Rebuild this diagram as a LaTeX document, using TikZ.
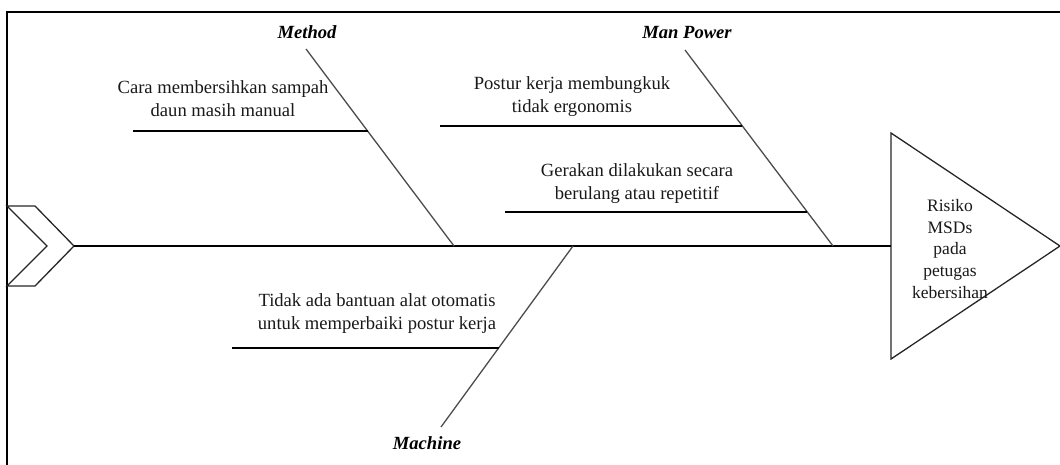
\documentclass[tikz,border=0pt]{standalone}
\usepackage{fontspec}
\setmainfont{Liberation Serif}
\begin{document}
\begin{tikzpicture}[x=1pt,y=-1pt,
  frame/.style={line width=2pt,black},
  spine/.style={line width=1.3pt,black},
  bone/.style={line width=1.3pt,black!70},
  sub/.style={line width=1.3pt,black},
  outline/.style={line width=1.3pt,black!85,line join=miter},
  cause/.style={align=center,inner sep=0pt,font=\fontsize{18.6}{22.8}\selectfont,text=black!90},
  cat/.style={inner sep=0pt,font=\fontsize{18.6}{22}\selectfont\bfseries\itshape},
  effect/.style={align=center,inner sep=0pt,font=\fontsize{17.5}{21.7}\selectfont,text=black!90}]
\useasboundingbox (0,0) rectangle (1060,465);
% frame
\draw[frame] (6.5,465) -- (6.5,12.5) -- (1060,12.5);
% chevron tail
\draw[outline]
  (7,206) -- (35,206) -- (74,246) -- (35,286) -- (7,286) -- (47,246) -- cycle;
\coordinate (tail) at (74,246);
% head triangle
\draw[outline] (891,133) -- (1060,246) -- (891,359) -- cycle;
\coordinate (head) at (891,246);
\node[effect] (effect) at (950,249) {Risiko\\MSDs\\pada\\petugas\\kebersihan};
% spine
\draw[spine] (tail) -- (head);
% category labels
\node[cat] (method) at (307,32) {Method};
\node[cat] (manpower) at (687,33) {Man Power};
\node[cat] (machine) at (427,443) {Machine};
% bone ends
\coordinate (mtop) at (306,49);
\coordinate (mbot) at (454,246);
\coordinate (ptop) at (685,50);
\coordinate (pbot) at (833,246);
\coordinate (cbot) at (441,427);
\coordinate (ctop) at (573,246);
\draw[bone] (mtop) -- (mbot);
\draw[bone] (ptop) -- (pbot);
\draw[bone] (cbot) -- (ctop);
% sub-branches
\coordinate (m1a) at (133,131);
\coordinate (m1b) at (367.6,131);
\draw[sub] (m1a) -- (m1b);
\node[cause] (t1) at (223,98.5) {Cara membersihkan sampah\\daun masih manual};
\coordinate (p1a) at (440,126);
\coordinate (p1b) at (742,126);
\draw[sub] (p1a) -- (p1b);
\node[cause] (t2) at (572,96.5) {Postur kerja membungkuk\\tidak ergonomis};
\coordinate (p2a) at (505,212);
\coordinate (p2b) at (807,212);
\draw[sub] (p2a) -- (p2b);
\node[cause] (t3) at (637,183.5) {Gerakan dilakukan secara\\berulang atau repetitif};
\coordinate (c1a) at (232,348);
\coordinate (c1b) at (499,348);
\draw[sub] (c1a) -- (c1b);
\node[cause] (t4) at (377,313.5) {Tidak ada bantuan alat otomatis\\untuk memperbaiki postur kerja};
\end{tikzpicture}
\end{document}
